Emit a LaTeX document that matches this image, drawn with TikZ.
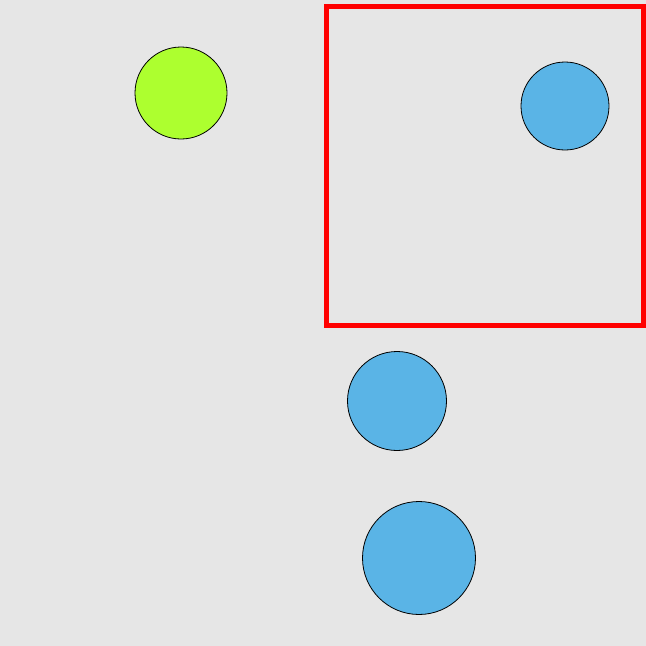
\documentclass[tikz,border=0pt]{standalone}
\begin{document}
\begin{tikzpicture}[x=1pt,y=-1pt,
  ball/.style={circle,draw=black,line width=0.8pt,inner sep=0pt},
  frame/.style={draw={rgb,255:red,255;green,0;blue,0},line width=5pt}]
\definecolor{bg}{RGB}{230,230,230}
\definecolor{skyb}{RGB}{90,180,230}
\definecolor{lime}{RGB}{173,255,47}
\fill[bg] (0,0) rectangle (646,646);
\useasboundingbox (0,0) rectangle (646,646);
\draw[frame] (326,6) rectangle (643.5,325);
\node[ball,fill=lime,minimum size=92pt] (g) at (181,93) {};
\node[ball,fill=skyb,minimum size=88pt] (b1) at (565,106) {};
\node[ball,fill=skyb,minimum size=99pt] (b2) at (397,401) {};
\node[ball,fill=skyb,minimum size=113pt] (b3) at (419,558) {};
\end{tikzpicture}
\end{document}
